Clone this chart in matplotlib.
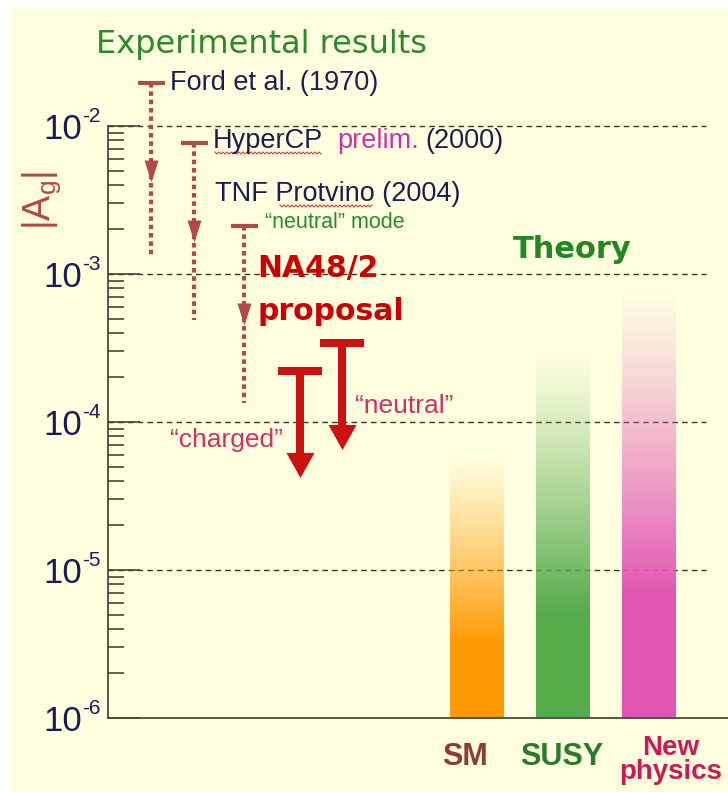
import numpy as np
import matplotlib.pyplot as plt
from matplotlib.patches import Rectangle
from matplotlib.lines import Line2D
from matplotlib.colors import to_rgba
from matplotlib.ticker import FixedLocator, NullFormatter

plt.rcParams['font.family'] = ['Liberation Sans', 'DejaVu Sans']
plt.rcParams['mathtext.fontset'] = 'custom'
plt.rcParams['mathtext.rm'] = 'Liberation Sans'

# experimental upper limits on |Ag| (cap value, end of dotted line)
exp_limit = [1.95e-2, 7.7e-3, 2.1e-3]
exp_end = [1.3e-3, 4.9e-4, 1.35e-4]

# NA48/2 proposal sensitivities
na48_modes = ['\u201ccharged\u201d', '\u201cneutral\u201d']
na48_limit = [2.2e-4, 3.4e-4]

# theory predictions (upper end of the band)
theory_names = ['SM', 'SUSY', 'New\nphysics']
theory_top = [6.5e-5, 3.2e-4, 8.5e-4]
theory_colors = ['#ff9a05', '#55aa4a', '#e056b2']
theory_label_colors = ['#8a3c3c', '#2a7a2a', '#cc1a55']

decades = [1e-6, 1e-5, 1e-4, 1e-3, 1e-2]

W, H = 728, 792
fig = plt.figure(figsize=(W / 100, H / 100), dpi=100)
fig.patch.set_facecolor('white')
fig.patches.append(Rectangle((10 / W, 0), 1, (H - 9) / H, transform=fig.transFigure,
                             facecolor='#ffffe0', edgecolor='none', zorder=-10))


def ftext(x, y, s, **kw):
    # place text by pixel position in the picture
    return fig.text(x / W, 1 - y / H, s, **kw)


def squiggle(x0, x1, y):
    # red spell-check wave under a word
    xs = np.arange(x0, x1 + 0.1, 2.0)
    ys = y + np.where(np.arange(len(xs)) % 2 == 0, -1.0, 1.0)
    fig.add_artist(Line2D(xs / W, 1 - ys / H, transform=fig.transFigure,
                          color='#d04040', lw=0.8))


ax = fig.add_axes([108 / W, 74 / H, 620 / W, (718 - 9) / H])
ax.set_facecolor('none')
ax.set_yscale('log')
ax.set_ylim(1e-6, 10 ** (-2 + 117 / 148))
ax.set_xlim(0, 620)
ax.set_xticks([])

for s in ['top', 'right']:
    ax.spines[s].set_visible(False)
ax.spines['left'].set_bounds(1e-6, 1e-2)
for s in ['left', 'bottom']:
    ax.spines[s].set_color('#4a4a3a')
    ax.spines[s].set_linewidth(1.3)

ax.yaxis.set_major_locator(FixedLocator(decades))
ax.yaxis.set_minor_locator(FixedLocator([m * 10.0 ** e for e in range(-6, -2) for m in range(2, 10)]))
ax.yaxis.set_major_formatter(NullFormatter())
ax.yaxis.set_minor_formatter(NullFormatter())
ax.tick_params(axis='y', which='major', direction='in', length=23, width=1.2, color='#444433',
               labelleft=False)
ax.tick_params(axis='y', which='minor', direction='in', length=11.5, width=1.2, color='#444433')

# decade labels: "10" with a small raised exponent
navy = '#1c1c55'
ytr = ax.get_yaxis_transform()
for d in decades:
    ax.text(-26 / 620, d, '10', transform=ytr, ha='right', va='center_baseline',
            fontsize=25, color=navy)
    ax.text(-25.5 / 620, d, '-%d' % round(-np.log10(d)), transform=ytr, ha='left',
            va='bottom', fontsize=15, color=navy)

ax.hlines(decades[1:], 0, 598, colors='#333333', linestyles=(0, (4, 3)), lw=1, zorder=1)

# theory bands, fading towards the top
bar_x = [369, 455, 541]
for xc, top, col in zip(bar_x, theory_top, theory_colors):
    n = 90
    edges = np.logspace(-6, np.log10(top), n + 1)
    t = (np.arange(n) + 0.5) / n
    alpha = np.clip((1 - t) / 0.72, 0, 1) ** 1.2
    rgba = [to_rgba(col, a) for a in alpha]
    ax.bar([xc] * n, edges[1:] - edges[:-1], bottom=edges[:-1], width=54,
           color=rgba, linewidth=0, antialiased=False, zorder=2)

# experimental limits: cap, dotted line, small arrowhead
exp_x = [43, 86, 136]
ec = '#b04a4a'
head = [(-7, 11), (7, 11), (0, -11), (-7, 11)]
for xc, lim, end in zip(exp_x, exp_limit, exp_end):
    ax.plot([xc, xc], [lim, end], color=ec, lw=3, ls=(0, (1.1, 0.9)),
            dash_capstyle='butt', zorder=3)
    ax.plot([xc - 13.5, xc + 13.5], [lim, lim], color=ec, lw=3,
            solid_capstyle='butt', zorder=3)
    ax.plot([xc], [lim / 10 ** (88 / 148)], marker=head, ms=15.8, color=ec,
            mec='none', zorder=4)

# NA48/2 sensitivities: thick T with arrow
na_x = [192, 234]
rc = '#cc1111'
bighead = [(-14, 12.5), (14, 12.5), (0, -12.5), (-14, 12.5)]
for xc, lim in zip(na_x, na48_limit):
    ax.plot([xc - 22, xc + 22], [lim, lim], color=rc, lw=5.8, solid_capstyle='butt', zorder=5)
    ax.plot([xc, xc], [lim, lim / 10 ** (84 / 148)], color=rc, lw=5.8,
            solid_capstyle='butt', zorder=5)
    ax.plot([xc], [lim / 10 ** (93.5 / 148)], marker=bighead, ms=20.2, color=rc,
            mec='none', zorder=6)

ftext(262, 45, 'Experimental results', ha='center', va='center', fontsize=23,
      color='#2a8a2a', family='DejaVu Sans')
ftext(170, 83, 'Ford et al. (1970)', ha='left', va='center', fontsize=19.5, color=navy)
ftext(213, 141, 'HyperCP', ha='left', va='center', fontsize=19.5, color=navy)
ftext(337, 141, 'prelim.', ha='left', va='center', fontsize=19.5, color='#cc33aa')
ftext(425, 141, '(2000)', ha='left', va='center', fontsize=19.5, color=navy)
ftext(215, 194, 'TNF Protvino (2004)', ha='left', va='center', fontsize=19.5, color=navy)
ftext(265, 223, '\u201cneutral\u201d mode', ha='left', va='center', fontsize=15.5, color='#2a8a2a')
squiggle(215, 322, 153)
squiggle(280, 372, 206)

ftext(257, 269, 'NA48/2', ha='left', va='center', fontsize=21.5, fontweight='bold',
      color='#cc0000', family='DejaVu Sans')
ftext(257, 312, 'proposal', ha='left', va='center', fontsize=21.5, fontweight='bold',
      color='#cc0000', family='DejaVu Sans')
ftext(226, 440, na48_modes[0], ha='center', va='center', fontsize=19, color='#d03068')
ftext(404, 406, na48_modes[1], ha='center', va='center', fontsize=19, color='#d03068')

ftext(572, 250, 'Theory', ha='center', va='center', fontsize=22, fontweight='bold',
      color='#228822', family='DejaVu Sans')

ftext(42, 200, r'$\mathregular{|A_g|}$', ha='center', va='center', rotation=90,
      fontsize=27, color='#b04848')

label_x = [465, 562, 671]
label_y = [757, 757, 760]
label_size = [22, 22, 20]
for lx, ly, name, col, fs in zip(label_x, label_y, theory_names, theory_label_colors, label_size):
    ftext(lx, ly, name, ha='center', va='center', fontsize=fs, fontweight='bold',
          color=col, linespacing=0.9)

fig.savefig('out.png', dpi=100)
